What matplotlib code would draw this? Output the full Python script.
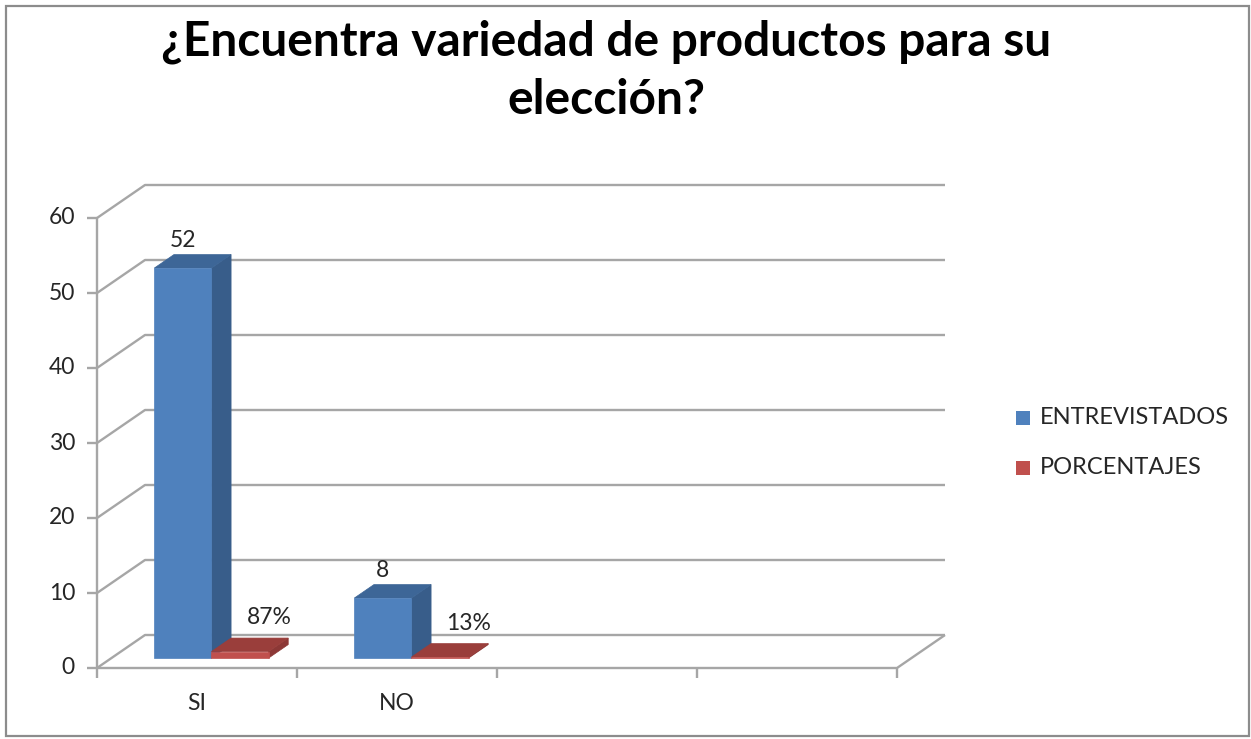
import matplotlib
matplotlib.use("Agg")
import matplotlib.pyplot as plt
from matplotlib.patches import Polygon, Rectangle
from matplotlib.transforms import IdentityTransform
from matplotlib.lines import Line2D

# ---- data -------------------------------------------------------------
categories = ["SI", "NO"]
n_slots = 4                      # category slots on the floor (two are empty)
entrevistados = [52, 8]
porcentajes = [0.87, 0.13]
porcentaje_labels = ["87%", "13%"]
series_names = ["ENTREVISTADOS", "PORCENTAJES"]
y_ticks = [0, 10, 20, 30, 40, 50, 60]
title_lines = ["¿Encuentra variedad de productos para su", "elección?"]

# ---- style ------------------------------------------------------------
FONT = "Lato"
GRID = "#a6a6a6"
front_cols = ["#4f81bd", "#c0504d"]
side_cols = ["#385d8a", "#8c3836"]
top_cols = ["#3d6697", "#9a3e3b"]
DX, DY = 48.0, 33.0              # full depth of the floor, in pixels
BAR_F0, BAR_F1 = 0.30, 0.71      # bar front / back depth fraction
GAP = 1.5                        # gap width relative to one bar

W, H, DPI = 12.51, 7.39, 100
fig = plt.figure(figsize=(W, H), dpi=DPI)
fig.patch.set_facecolor("white")

# chart frame
fig.add_artist(Rectangle((6 / 1251, 3 / 739), 1243 / 1251, 730 / 739,
                         transform=fig.transFigure, fill=False,
                         edgecolor="#8c8c8c", lw=1.6))

ax = fig.add_axes([97 / 1251, 71 / 739, 800 / 1251, 450 / 739])
ax.set_xlim(0, n_slots)
ax.set_ylim(0, y_ticks[-1])
ax.axis("off")


def proj(x, y, f=0.0):
    """Data point (x, y) pushed back by depth fraction f, in display pixels."""
    px, py = ax.transData.transform((x, y))
    return (px + f * DX, py + f * DY)


def line(pts, **kw):
    xs, ys = zip(*pts)
    ax.add_line(Line2D(xs, ys, transform=IdentityTransform(), clip_on=False,
                       color=GRID, lw=1.7, solid_capstyle="butt", **kw))


def poly(pts, color, z):
    ax.add_patch(Polygon(pts, closed=True, transform=IdentityTransform(),
                         facecolor=color, edgecolor=color, lw=0.5,
                         clip_on=False, zorder=z))


# back wall + side wall gridlines, y ticks
for v in y_ticks:
    line([proj(0, v, 0), proj(0, v, 1), proj(n_slots, v, 1)])
    p = proj(0, v, 0)
    line([(p[0] - 10, p[1]), p])
    ax.text(p[0] - 22, p[1], f"{v}", transform=IdentityTransform(),
            ha="right", va="center", fontsize=16.5, family=FONT,
            color="#262626")

# floor edges and vertical axis
line([proj(0, 0, 0), proj(n_slots, 0, 0), proj(n_slots, 0, 1)])
line([proj(0, 0, 0), proj(0, y_ticks[-1], 0)])
for k in range(n_slots + 1):
    p = proj(k, 0, 0)
    line([p, (p[0], p[1] - 10)])

# category labels
for i, c in enumerate(categories):
    p = proj(i + 0.5, 0, 0)
    ax.text(p[0], p[1] - 35, c, transform=IdentityTransform(), ha="center",
            va="center", fontsize=16.5, family=FONT, color="#262626")

# bars
bw = 1.0 / (2 + GAP)
series = [entrevistados, porcentajes]
for i in range(len(categories)):
    for s, vals in enumerate(series):
        h = vals[i]
        x0 = i + (1 - 2 * bw) / 2 + s * bw
        x1 = x0 + bw
        z = 3 + i * 2 + s
        # side face
        poly([proj(x1, 0, BAR_F0), proj(x1, 0, BAR_F1),
              proj(x1, h, BAR_F1), proj(x1, h, BAR_F0)], side_cols[s], z)
        # top face
        poly([proj(x0, h, BAR_F0), proj(x1, h, BAR_F0),
              proj(x1, h, BAR_F1), proj(x0, h, BAR_F1)], top_cols[s], z)
        # front face
        poly([proj(x0, 0, BAR_F0), proj(x1, 0, BAR_F0),
              proj(x1, h, BAR_F0), proj(x0, h, BAR_F0)], front_cols[s], z)

# value labels
label_offsets = [(0, 27.5), (29, 34)]
for i in range(len(categories)):
    for s, vals in enumerate(series):
        h = vals[i]
        x0 = i + (1 - 2 * bw) / 2 + s * bw
        p = proj(x0 + bw / 2, h, BAR_F0)
        txt = f"{entrevistados[i]}" if s == 0 else porcentaje_labels[i]
        dx, dy = label_offsets[s]
        ax.text(p[0] + dx, p[1] + dy, txt, transform=IdentityTransform(),
                ha="center", va="center", fontsize=16.5, family=FONT,
                color="#262626", zorder=20)

# legend
for s, name in enumerate(series_names):
    cy = 739 - (418 + 50 * s)
    fig.add_artist(Rectangle((1016 / 1251, (cy - 7) / 739), 14 / 1251,
                             14 / 739, transform=fig.transFigure,
                             facecolor=front_cols[s], edgecolor="none"))
    fig.text(1040 / 1251, cy / 739, name, ha="left", va="center",
             fontsize=17, family=FONT, color="#262626")

# title, one baseline per line
for k, (txt, base) in enumerate(zip(title_lines, [56, 114])):
    fig.text(606 / 1251, 1 - base / 739, txt, ha="center", va="baseline",
             fontsize=34.5, family=FONT, weight="bold", color="black")

fig.savefig("out.png", dpi=DPI, facecolor="white")
